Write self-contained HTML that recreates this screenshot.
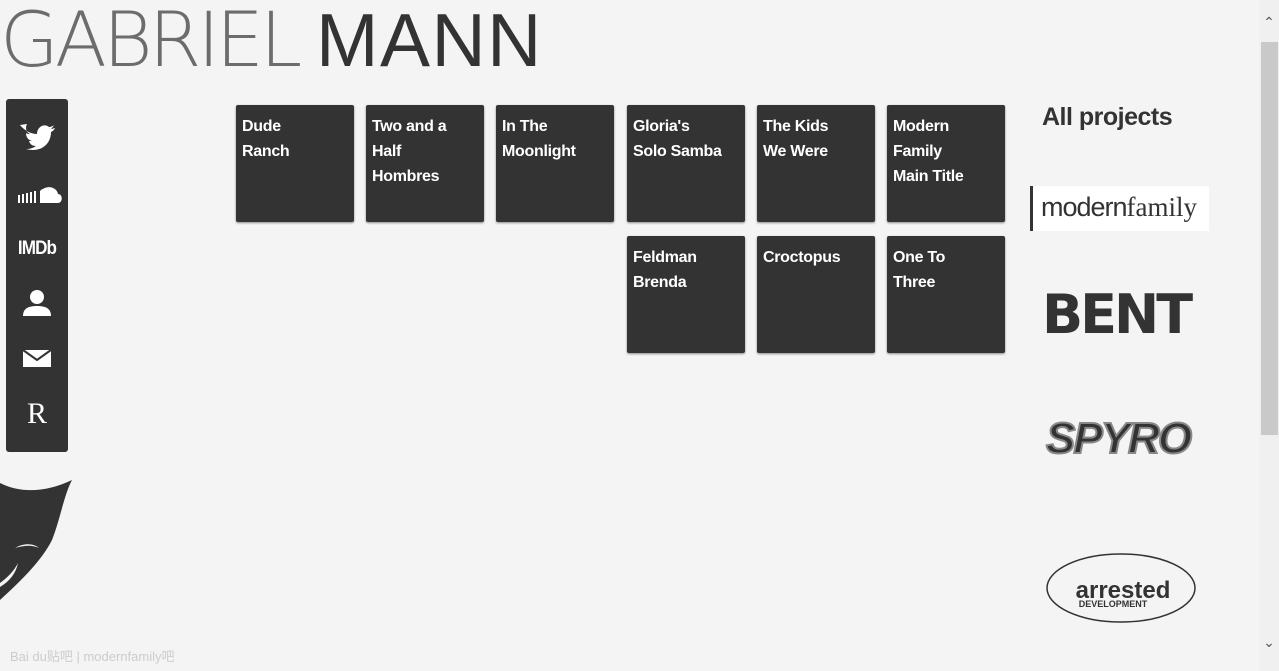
<!DOCTYPE html>
<html><head><style>
body{margin:0;width:1279px;height:671px;background:#f4f4f4;overflow:hidden;position:relative;font-family:"Liberation Sans",sans-serif}
.t{position:absolute;top:0;left:0;font-size:77px;line-height:80px;color:#333;letter-spacing:-1px;white-space:nowrap}
.tile{position:absolute;width:118px;height:117px;background:#333;border-radius:2px;color:#fff;font-weight:bold;font-size:16px;line-height:25px;box-sizing:border-box;padding:9px 6px;box-shadow:0 1px 2px #888;letter-spacing:-0.3px}
.side{position:absolute;left:6px;top:99px;width:62px;height:353px;background:#333;border-radius:3px}
.ic{position:absolute;left:0;width:62px;text-align:center;color:#fff}
.sb{position:absolute;left:1259px;top:0;width:20px;height:671px;background:#f0f0f0}
</style></head><body>
<div class="t"><span style="color:#555;font-size:76px;font-family:'DejaVu Sans',sans-serif;font-weight:200;letter-spacing:-4px;opacity:.85">GABRIEL</span></div>
<div class="t" style="left:316px;font-size:75px;letter-spacing:1.5px">MANN</div>
<div class="side">
 <svg class="ic" style="top:20px" height="34" viewBox="0 0 62 34"><path d="M14 6c5 6 11 9 17 9 0-7 7-11 12-7 2 0 4-1 5-2-1 2-2 3-3 4 2 0 3-1 4-1-1 2-2 3-4 4 0 12-10 21-25 17 4 0 7-1 10-3-4 0-6-2-7-5h3c-4-1-6-4-6-8 1 1 3 1 4 1-4-2-5-6-3-10z" fill="#fff"/></svg>
 <svg class="ic" style="top:84px" height="24" viewBox="0 0 62 24"><path d="M10 20h42c5 0 5-9 0-9-1-6-9-9-15-5-1 0-2 1-3 2v12zM12 12h2v8h-2zM16 11h2v9h-2zM20 10h2v10h-2zM24 9h2v11h-2zM28 8h2v12h-2z" fill="#fff"/></svg>
 <div class="ic" style="top:139px;font-weight:bold;font-size:19px;letter-spacing:-1px;transform:scaleX(.9)">IMDb</div>
 <svg class="ic" style="top:190px" height="28" viewBox="0 0 62 28"><circle cx="31" cy="8" r="7" fill="#fff"/><path d="M17 27c0-8 6-10 14-10s14 2 14 10z" fill="#fff"/></svg>
 <svg class="ic" style="top:250px" height="18" viewBox="0 0 62 18"><rect x="17" y="1" width="28" height="17" fill="#fff"/><path d="M17 1l14 10 14-10" stroke="#333" stroke-width="2" fill="none"/></svg>
 <div class="ic" style="top:298px;font-family:'Liberation Serif',serif;font-size:30px">R</div>
</div>
<svg style="position:absolute;left:0;top:478px" width="75" height="125" viewBox="0 0 75 125"><path d="M0 5c20 10 45 10 72 -3-8 15-12 40-20 60-10 20-30 40-52 60z" fill="#333"/><path d="M15 70c10-6 20-4 24 0-6-3-14-3-24 0z" fill="#f4f4f4"/><path d="M0 105c8-6 14-12 18-20-2 10-8 18-18 24z" fill="#f4f4f4"/></svg>
<div style="position:absolute;left:10px;top:646px;color:#ccc;font-size:13px">Bai du贴吧 | modernfamily吧</div>

<div class="tile" style="left:236px;top:105px">Dude<br>Ranch</div>
<div class="tile" style="left:366px;top:105px">Two and a<br>Half<br>Hombres</div>
<div class="tile" style="left:496px;top:105px">In The<br>Moonlight</div>
<div class="tile" style="left:627px;top:105px">Gloria's<br>Solo Samba</div>
<div class="tile" style="left:757px;top:105px">The Kids<br>We Were</div>
<div class="tile" style="left:887px;top:105px">Modern<br>Family<br>Main Title</div>
<div class="tile" style="left:627px;top:236px">Feldman<br>Brenda</div>
<div class="tile" style="left:757px;top:236px">Croctopus</div>
<div class="tile" style="left:887px;top:236px">One To<br>Three</div>

<div style="position:absolute;left:1042px;top:103px;font-size:25px;font-weight:bold;color:#333;letter-spacing:-0.5px">All projects</div>
<div style="position:absolute;left:1030px;top:186px;width:179px;height:45px;background:#fff;border-left:3px solid #333;box-sizing:border-box;font-size:27px;line-height:42px;color:#333;padding-left:8px;white-space:nowrap"><span style="font-weight:300;letter-spacing:-1px">modern</span><span style="font-family:'Liberation Serif',serif">family</span></div>
<div style="position:absolute;left:1042px;top:283px;font-size:54px;font-weight:bold;color:#333;letter-spacing:-3px;font-family:'DejaVu Sans',sans-serif">BENT</div>
<div style="position:absolute;left:1046px;top:414px;font-size:44px;font-weight:bold;font-style:italic;color:#333;-webkit-text-stroke:2px #888;letter-spacing:-2px">SPYRO</div>
<svg style="position:absolute;left:1045px;top:544px" width="155" height="82"><ellipse cx="76" cy="44" rx="74" ry="34" fill="none" stroke="#333" stroke-width="1.5"/><text x="78" y="54" text-anchor="middle" font-family="Liberation Sans" font-weight="bold" font-size="24" fill="#333">arrested</text><text x="68" y="63" text-anchor="middle" font-family="Liberation Sans" font-weight="bold" font-size="9" fill="#333">DEVELOPMENT</text></svg>

<div class="sb"><div style="position:absolute;left:2px;top:42px;width:17px;height:393px;background:#c9c9c9"></div>
<div style="position:absolute;top:14px;left:0;width:20px;text-align:center;color:#555;font-size:14px">&#8963;</div>
<div style="position:absolute;top:634px;left:0;width:20px;text-align:center;color:#555;font-size:14px">&#8964;</div></div>
</body></html>
